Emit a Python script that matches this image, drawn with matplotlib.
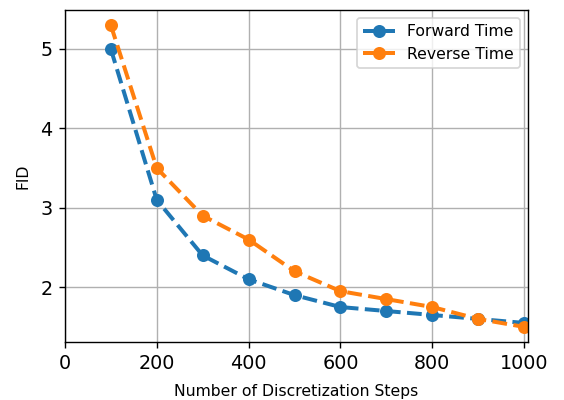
import matplotlib
matplotlib.use("Agg")
import matplotlib.pyplot as plt

steps = [100, 200, 300, 400, 500, 600, 700, 800, 900, 1000]
forward = [5.0, 3.1, 2.4, 2.1, 1.9, 1.75, 1.7, 1.65, 1.6, 1.55]
reverse = [5.3, 3.5, 2.9, 2.6, 2.2, 1.95, 1.85, 1.75, 1.6, 1.5]

fig, ax = plt.subplots(figsize=(4.512, 3.2), dpi=125)
ax.plot(steps, forward, 'o--', lw=2.3, ms=6.5, label='Forward Time', color='#1f77b4')
ax.plot(steps, reverse, 'o--', lw=2.3, ms=6.5, label='Reverse Time', color='#ff7f0e')
ax.set_xlim(0, 1008)
ax.set_xticks([0, 200, 400, 600, 800, 1000])
ax.set_yticks([2, 3, 4, 5])
ax.tick_params(labelsize=11)
ax.grid(True)
ax.set_xlabel('Number of Discretization Steps', fontsize=9, labelpad=6)
ax.set_ylabel('FID', fontsize=9, labelpad=6)
ax.legend(fontsize=9, loc='upper right')
fig.subplots_adjust(left=0.115, right=0.936, top=0.975, bottom=0.145)
fig.savefig('out.png', dpi=125)
